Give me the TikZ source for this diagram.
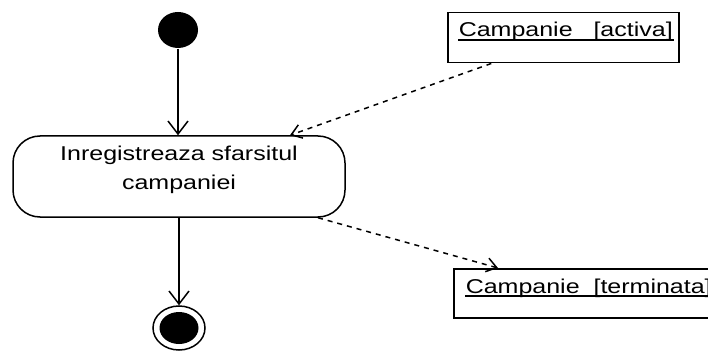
\documentclass[tikz,border=0pt]{standalone}
\usepackage{fontspec}
\setmainfont{Liberation Sans}
\newfontfamily\umlfont[FakeStretch=1.25]{Liberation Sans}
\usetikzlibrary{arrows.meta,shapes.geometric}
\begin{document}
\begin{tikzpicture}[x=1pt,y=-1pt,
  line width=1.5pt,
  txt/.style={font=\umlfont\fontsize{20}{29}\selectfont, inner sep=0pt, text=black},
  objbox/.style={draw, rectangle, anchor=north west, inner sep=0pt},
  flow/.style={-{Straight Barb[length=13pt,width=20pt]}},
  dep/.style={dash pattern=on 5pt off 5pt, -{Straight Barb[length=10pt,width=14pt]}},
  uline/.style={line width=1.3pt}]
\useasboundingbox (0,0) rectangle (708,355);
% initial state
\node[ellipse, fill=black, minimum width=40pt, minimum height=36pt, inner sep=0pt] (start) at (178,30) {};
% action
\node[draw, rounded corners=27pt, minimum width=332pt, minimum height=81pt, inner sep=0pt] (act) at (179,176.5) {};
\node[txt, align=center, yshift=7pt] (actlbl) at (act.center) {Inregistreaza sfarsitul\\campaniei};
% final state
\node[ellipse, draw, minimum width=52pt, minimum height=44pt, inner sep=0pt] (final) at (179,328) {};
\node[ellipse, fill=black, minimum width=39pt, minimum height=32pt, inner sep=0pt] (finaldot) at (final.center) {};
% object nodes
\node[objbox, minimum width=231pt, minimum height=50pt] (obj1) at (447,12) {};
\node[txt, anchor=base west] (obj1lbl) at (458,37) {Campanie\ \ \ [activa]};
\draw[uline] ([yshift=-3pt]obj1lbl.base west) -- ([yshift=-3pt]obj1lbl.base east);
\node[objbox, minimum width=270pt, minimum height=49pt] (obj2) at (453,268) {};
\node[txt, anchor=base west] (obj2lbl) at (465,293) {Campanie\ \ [terminata]};
\draw[uline] ([yshift=-3pt]obj2lbl.base west) -- ([yshift=-3pt]obj2lbl.base east);
% flows
\draw[flow] (start.south) -- (start.south |- act.north);
\draw[flow] (act.south) -- (final.north);
% object flows
\draw[dep] ([xshift=-72pt]obj1.south) -- ([xshift=111pt]act.north);
\draw[dep] ([xshift=139pt]act.south) -- ([xshift=45pt]obj2.north west);
\end{tikzpicture}
\end{document}
